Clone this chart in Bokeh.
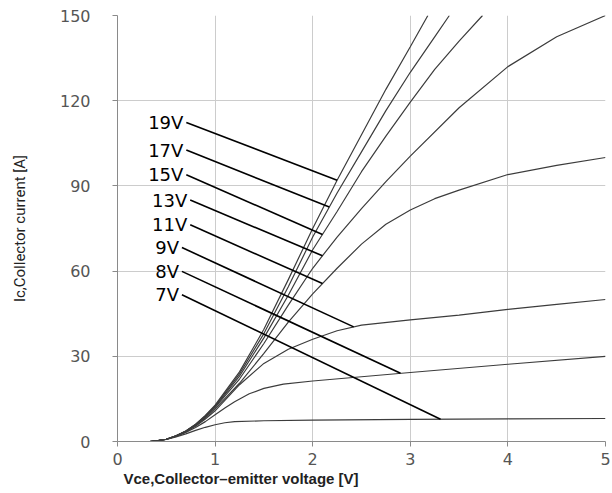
import numpy as np
from bokeh.plotting import figure
from bokeh.models import Range1d, FixedTicker, ColumnDataSource, Title
from bokeh.core.properties import value
from bokeh.embed import file_html
from bokeh.resources import INLINE

# ---- data (Vce [V], Ic [A]) ----
vce_7 = [0.33, 0.4, 0.5, 0.6, 0.7, 0.8, 0.9, 1.0, 1.1, 1.2, 1.5, 2.0, 3.0, 4.0, 5.0]
ic_7 = [0, 0.2, 0.7, 1.6, 2.7, 3.9, 5.0, 5.9, 6.6, 7.0, 7.3, 7.5, 7.8, 8.0, 8.1]

vce_8 = [0.33, 0.4, 0.5, 0.6, 0.7, 0.8, 0.9, 1.0, 1.1, 1.2, 1.35, 1.5, 1.7, 2.0, 2.5, 3.0, 4.0, 5.0]
ic_8 = [0, 0.2, 0.8, 1.8, 3.2, 4.9, 7.0, 9.4, 11.8, 14.0, 16.8, 18.7, 20.2, 21.3, 22.8, 24.3, 27.2, 30.0]

vce_9 = [0.33, 0.4, 0.5, 0.6, 0.7, 0.8, 0.9, 1.0, 1.25, 1.5, 1.75, 2.0, 2.25, 2.5, 3.0, 3.5, 4.0, 4.5, 5.0]
ic_9 = [0, 0.2, 0.8, 1.9, 3.4, 5.4, 7.9, 10.8, 20.0, 27.5, 32.5, 36.0, 39.0, 41.0, 42.8, 44.5, 46.5, 48.3, 50.0]

vce_11 = [0.33, 0.4, 0.5, 0.6, 0.7, 0.8, 0.9, 1.0, 1.25, 1.5, 1.75, 2.0, 2.25, 2.5, 2.75, 3.0, 3.25, 3.5, 4.0, 4.5, 5.0]
ic_11 = [0, 0.2, 0.8, 1.9, 3.5, 5.6, 8.3, 11.5, 20.5, 31.0, 42.0, 52.0, 61.0, 69.5, 76.5, 81.5, 85.5, 88.5, 94.0, 97.2, 100.0]

vce_13 = [0.33, 0.4, 0.5, 0.6, 0.7, 0.8, 0.9, 1.0, 1.25, 1.5, 1.75, 2.0, 2.25, 2.5, 2.75, 3.0, 3.5, 4.0, 4.5, 5.0]
ic_13 = [0, 0.2, 0.8, 2.0, 3.6, 5.8, 8.6, 12.0, 22.0, 34.5, 48.0, 61.0, 72.0, 82.0, 91.5, 100.5, 117.5, 132.0, 142.5, 150.0]

vce_15 = [0.33, 0.4, 0.5, 0.6, 0.7, 0.8, 0.9, 1.0, 1.25, 1.5, 1.75, 2.0, 2.25, 2.5, 2.75, 3.0, 3.25, 3.5, 3.74]
ic_15 = [0, 0.2, 0.8, 2.0, 3.6, 5.9, 8.8, 12.3, 23.0, 36.5, 51.5, 67.5, 81.0, 95.0, 107.5, 119.5, 131.0, 141.0, 150.0]

vce_17 = [0.33, 0.4, 0.5, 0.6, 0.7, 0.8, 0.9, 1.0, 1.25, 1.5, 1.75, 2.0, 2.25, 2.5, 2.75, 3.0, 3.25, 3.4]
ic_17 = [0, 0.2, 0.8, 2.0, 3.7, 6.0, 9.0, 12.5, 23.8, 38.0, 54.5, 72.0, 87.5, 102.0, 116.5, 130.0, 142.5, 150.0]

vce_19 = [0.33, 0.4, 0.5, 0.6, 0.7, 0.8, 0.9, 1.0, 1.25, 1.5, 1.75, 2.0, 2.25, 2.5, 2.75, 3.0, 3.18]
ic_19 = [0, 0.2, 0.8, 2.0, 3.7, 6.1, 9.2, 12.8, 24.5, 39.5, 57.0, 75.0, 92.0, 108.0, 124.0, 139.0, 150.0]

gate_labels = ["19V", "17V", "15V", "13V", "11V", "9V", "8V", "7V"]
# Vce at which each label's leader line touches its curve
pointer_vce = [2.25, 2.17, 2.10, 2.10, 2.10, 2.42, 2.90, 3.31]

x_ticks = [0, 1, 2, 3, 4, 5]
y_ticks = [0, 30, 60, 90, 120, 150]

x_title = "Vce,Collector\u2013emitter voltage [V]"
y_title = "Ic,Collector current [A]"

# ---- layout (positions of label texts, in data units) ----
label_x = [0.705, 0.705, 0.705, 0.745, 0.745, 0.66, 0.66, 0.66]
label_y = [112.3, 102.6, 93.9, 85.0, 76.3, 68.3, 59.9, 51.7]

curves = {
    "19V": (vce_19, ic_19), "17V": (vce_17, ic_17), "15V": (vce_15, ic_15),
    "13V": (vce_13, ic_13), "11V": (vce_11, ic_11), "9V": (vce_9, ic_9),
    "8V": (vce_8, ic_8), "7V": (vce_7, ic_7),
}

p = figure(width=612, height=493, output_backend="svg", toolbar_location=None,
           x_range=Range1d(0, 5), y_range=Range1d(0, 150),
           min_border_left=117, min_border_right=7, min_border_top=15, min_border_bottom=52)
p.outline_line_color = None
p.background_fill_color = "white"
p.border_fill_color = "white"

for ax, ticks in ((p.xaxis, x_ticks), (p.yaxis, y_ticks)):
    ax.ticker = FixedTicker(ticks=ticks)
    ax.axis_line_color = "#8a8a8a"
    ax.major_tick_line_color = "#8a8a8a"
    ax.major_tick_out = 5
    ax.major_tick_in = 0
    ax.minor_tick_line_color = None
    ax.major_label_text_font = "DejaVu Sans"
    ax.major_label_text_font_size = "16px"
    ax.major_label_text_color = "#555555"
    ax.axis_label_text_color = "#222222"
    ax.axis_label_text_font_style = "normal"
p.xaxis.major_label_standoff = 6
p.yaxis.major_label_standoff = 22

# x-axis title, left-aligned with a small offset as in the reference
p.add_layout(Title(text=x_title, align="left", offset=6, standoff=0,
                   text_font="Liberation Sans", text_font_style="bold",
                   text_font_size="15px", text_color="#222222"), "below")

p.yaxis.axis_label = y_title
p.yaxis.axis_label_text_font = "Roboto"
p.yaxis.axis_label_text_font_size = "15px"
p.yaxis.axis_label_standoff = 28

p.grid.grid_line_color = "#cccccc"
p.grid.grid_line_width = 1
p.xgrid.ticker = FixedTicker(ticks=x_ticks)
p.ygrid.ticker = FixedTicker(ticks=y_ticks)

for name in gate_labels:
    vx, iy = curves[name]
    p.line(vx, iy, line_color="#3c3c3c", line_width=1.2)

# leader lines from label to curve
end_y = [float(np.interp(v, curves[n][0], curves[n][1])) for n, v in zip(gate_labels, pointer_vce)]
p.segment(x0=label_x, y0=label_y, x1=pointer_vce, y1=end_y, line_color="black", line_width=1.6)

src = ColumnDataSource(dict(x=[x - 0.03 for x in label_x], y=label_y, t=gate_labels))
p.text(x="x", y="y", text="t", source=src, text_align="right", text_baseline="middle",
       text_font=value("DejaVu Sans"), text_font_size="18px", text_color="black")

open("out.html", "w").write(file_html(p, INLINE))
